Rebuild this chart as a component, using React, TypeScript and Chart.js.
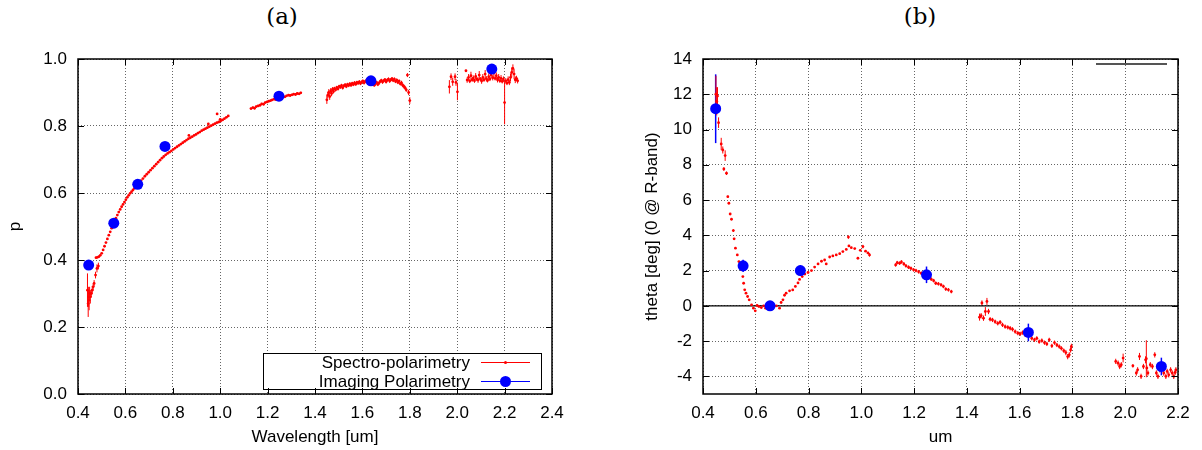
import React, { useEffect, useRef } from "react";
import { Chart, registerables } from "chart.js";

Chart.register(...registerables);

// ---------- axis ticks ----------
const xTicksA = [0.4, 0.6, 0.8, 1.0, 1.2, 1.4, 1.6, 1.8, 2.0, 2.2, 2.4];
const yTicksA = [0.0, 0.2, 0.4, 0.6, 0.8, 1.0];
const xTicksB = [0.4, 0.6, 0.8, 1.0, 1.2, 1.4, 1.6, 1.8, 2.0, 2.2];
const yTicksB = [-4, -2, 0, 2, 4, 6, 8, 10, 12, 14];

// ---------- imaging polarimetry (blue) ----------
const imgWaveA = [0.445, 0.551, 0.652, 0.767, 1.248, 1.636, 2.146];
const imgP = [0.385, 0.510, 0.626, 0.739, 0.889, 0.935, 0.970];
const imgPErr = [0, 0, 0, 0, 0, 0, 0];

const imgWaveB = [0.448, 0.552, 0.654, 0.769, 1.247, 1.633, 2.137];
const imgTheta = [11.18, 2.27, 0.0, 2.0, 1.76, -1.51, -3.44];
const imgThetaErr = [1.95, 0.35, 0.1, 0.3, 0.47, 0.5, 0.5];

// ---------- spectro-polarimetry p (red): [wavelength, p, err] ----------
const specP1: number[][] = [
  [0.440, 0.31, 0.05], [0.443, 0.27, 0.04], [0.445, 0.29, 0.03], [0.447, 0.28, 0.03],
  [0.449, 0.30, 0.02], [0.452, 0.29, 0.02], [0.456, 0.30, 0.012], [0.460, 0.31, 0.012],
  [0.464, 0.32, 0.01], [0.468, 0.33, 0.01], [0.474, 0.355, 0.01], [0.480, 0.375, 0.012],
  [0.486, 0.382, 0.01], [0.476, 0.407, 0], [0.482, 0.408, 0], [0.488, 0.410, 0],
  [0.494, 0.414, 0], [0.500, 0.420, 0], [0.506, 0.430, 0], [0.512, 0.441, 0],
  [0.518, 0.452, 0], [0.524, 0.463, 0], [0.530, 0.474, 0], [0.536, 0.484, 0],
  [0.542, 0.495, 0], [0.548, 0.505, 0], [0.554, 0.515, 0], [0.560, 0.525, 0],
  [0.566, 0.534, 0], [0.572, 0.543, 0], [0.578, 0.551, 0], [0.584, 0.559, 0],
  [0.590, 0.566, 0], [0.596, 0.573, 0], [0.602, 0.580, 0], [0.608, 0.587, 0],
  [0.614, 0.593, 0], [0.620, 0.599, 0], [0.626, 0.604, 0], [0.632, 0.609, 0],
  [0.638, 0.614, 0], [0.644, 0.619, 0], [0.650, 0.624, 0], [0.658, 0.630, 0],
  [0.666, 0.637, 0], [0.674, 0.643, 0], [0.682, 0.650, 0], [0.690, 0.656, 0],
  [0.698, 0.662, 0], [0.706, 0.668, 0], [0.714, 0.674, 0], [0.722, 0.680, 0],
  [0.730, 0.686, 0], [0.738, 0.692, 0], [0.746, 0.698, 0], [0.754, 0.704, 0],
  [0.762, 0.709, 0], [0.770, 0.714, 0], [0.778, 0.718, 0], [0.786, 0.722, 0],
  [0.794, 0.726, 0], [0.802, 0.730, 0], [0.810, 0.734, 0], [0.818, 0.738, 0],
  [0.826, 0.742, 0], [0.834, 0.746, 0], [0.842, 0.750, 0], [0.850, 0.754, 0],
  [0.858, 0.758, 0], [0.866, 0.762, 0], [0.868, 0.772, 0], [0.874, 0.765, 0],
  [0.882, 0.768, 0], [0.890, 0.772, 0], [0.898, 0.775, 0], [0.906, 0.779, 0],
  [0.914, 0.782, 0], [0.922, 0.786, 0], [0.930, 0.789, 0], [0.938, 0.792, 0],
  [0.946, 0.795, 0], [0.950, 0.806, 0], [0.954, 0.798, 0], [0.962, 0.801, 0],
  [0.970, 0.804, 0], [0.978, 0.807, 0], [0.986, 0.810, 0], [0.987, 0.836, 0],
  [0.994, 0.812, 0], [1.000, 0.820, 0], [1.002, 0.815, 0], [1.010, 0.818, 0],
  [1.018, 0.822, 0], [1.026, 0.826, 0], [1.034, 0.830, 0],
];
const specP2: number[][] = [
  [1.130, 0.852, 0.003], [1.138, 0.855, 0.003], [1.145, 0.853, 0.003], [1.152, 0.858, 0.003],
  [1.160, 0.860, 0.003], [1.168, 0.862, 0.003], [1.175, 0.866, 0.003], [1.183, 0.865, 0.003],
  [1.190, 0.870, 0.003], [1.198, 0.872, 0.003], [1.205, 0.874, 0.003], [1.213, 0.876, 0.003],
  [1.220, 0.878, 0.003], [1.228, 0.880, 0.003], [1.235, 0.879, 0.003], [1.243, 0.884, 0.003],
  [1.250, 0.885, 0.003], [1.258, 0.886, 0.003], [1.265, 0.888, 0.003], [1.273, 0.887, 0.003],
  [1.280, 0.890, 0.003], [1.288, 0.892, 0.003], [1.295, 0.891, 0.003], [1.303, 0.893, 0.003],
  [1.310, 0.895, 0.003], [1.318, 0.894, 0.003], [1.325, 0.897, 0.003], [1.333, 0.896, 0.003],
  [1.340, 0.899, 0.003],
];
const specP3: number[][] = [
  [1.450, 0.878, 0.012], [1.454, 0.892, 0.010], [1.458, 0.900, 0.010], [1.462, 0.888, 0.010],
  [1.466, 0.905, 0.008], [1.470, 0.897, 0.008], [1.474, 0.910, 0.006], [1.478, 0.903, 0.006],
  [1.482, 0.912, 0.005], [1.487, 0.908, 0.005], [1.492, 0.915, 0.005], [1.497, 0.911, 0.005],
  [1.502, 0.918, 0.005], [1.507, 0.916, 0.005], [1.512, 0.921, 0.005], [1.517, 0.914, 0.005],
  [1.522, 0.920, 0.005], [1.527, 0.923, 0.005], [1.532, 0.918, 0.005], [1.537, 0.924, 0.005],
  [1.542, 0.921, 0.005], [1.547, 0.926, 0.005], [1.552, 0.922, 0.005], [1.557, 0.927, 0.005],
  [1.562, 0.924, 0.005], [1.567, 0.929, 0.005], [1.572, 0.925, 0.005], [1.577, 0.930, 0.005],
  [1.582, 0.928, 0.005], [1.587, 0.932, 0.005], [1.592, 0.927, 0.005], [1.597, 0.931, 0.005],
  [1.602, 0.934, 0.005], [1.607, 0.929, 0.005], [1.612, 0.933, 0.005], [1.617, 0.936, 0.005],
  [1.622, 0.930, 0.005], [1.627, 0.934, 0.005], [1.632, 0.928, 0.005], [1.640, 0.925, 0.005],
  [1.645, 0.929, 0.005], [1.650, 0.922, 0.005], [1.655, 0.926, 0.005], [1.660, 0.930, 0.005],
  [1.665, 0.924, 0.005], [1.670, 0.928, 0.005], [1.675, 0.933, 0.005], [1.680, 0.936, 0.005],
  [1.685, 0.931, 0.005], [1.690, 0.935, 0.005], [1.695, 0.938, 0.005], [1.700, 0.932, 0.005],
  [1.705, 0.937, 0.005], [1.710, 0.940, 0.005], [1.715, 0.934, 0.005], [1.720, 0.938, 0.005],
  [1.725, 0.941, 0.005], [1.730, 0.936, 0.005], [1.735, 0.940, 0.005], [1.740, 0.933, 0.005],
  [1.745, 0.937, 0.005], [1.750, 0.930, 0.005], [1.755, 0.934, 0.005], [1.760, 0.926, 0.005],
  [1.765, 0.929, 0.006], [1.770, 0.922, 0.006], [1.775, 0.918, 0.006], [1.780, 0.914, 0.006],
  [1.785, 0.908, 0.006], [1.790, 0.952, 0.006], [1.795, 0.900, 0.008], [1.800, 0.876, 0.010],
];
const specP4: number[][] = [
  [1.967, 0.917, 0.020], [1.974, 0.947, 0.010], [1.981, 0.932, 0.012], [1.991, 0.947, 0.010],
  [1.995, 0.930, 0.010], [2.001, 0.902, 0.025], [2.037, 0.965, 0], [2.042, 0.937, 0.008],
  [2.048, 0.945, 0.010], [2.053, 0.934, 0.006], [2.058, 0.950, 0.012], [2.063, 0.938, 0.006],
  [2.068, 0.943, 0.008], [2.073, 0.935, 0.006], [2.078, 0.948, 0.010], [2.083, 0.940, 0.006],
  [2.088, 0.937, 0.008], [2.093, 0.952, 0.012], [2.098, 0.940, 0.006], [2.103, 0.934, 0.008],
  [2.108, 0.945, 0.010], [2.113, 0.938, 0.006], [2.118, 0.955, 0.012], [2.123, 0.941, 0.008],
  [2.128, 0.936, 0.006], [2.133, 0.947, 0.010], [2.138, 0.940, 0.006], [2.143, 0.952, 0.010],
  [2.150, 0.944, 0.008], [2.155, 0.958, 0.012], [2.160, 0.942, 0.006], [2.165, 0.950, 0.010],
  [2.170, 0.938, 0.008], [2.175, 0.945, 0.010], [2.180, 0.935, 0.006], [2.185, 0.942, 0.010],
  [2.190, 0.933, 0.006], [2.195, 0.940, 0.008], [2.200, 0.870, 0.065], [2.205, 0.935, 0.008],
  [2.210, 0.928, 0.006], [2.215, 0.938, 0.010], [2.220, 0.930, 0.008], [2.225, 0.945, 0.012],
  [2.230, 0.960, 0.015], [2.235, 0.972, 0.012], [2.240, 0.955, 0.015], [2.245, 0.938, 0.010],
  [2.250, 0.942, 0.008], [2.255, 0.935, 0.008],
];

// ---------- spectro-polarimetry theta (red): [wavelength, theta, err] ----------
const specT1: number[][] = [
  [0.449, 12.0, 1.05], [0.452, 11.6, 0.8], [0.455, 11.9, 0.5], [0.459, 10.39, 0.3],
  [0.469, 9.18, 0.35], [0.475, 8.84, 0.2], [0.484, 8.52, 0.3], [0.479, 7.76, 0.1],
  [0.489, 7.52, 0.1], [0.494, 6.19, 0.05], [0.498, 5.82, 0.05], [0.503, 5.21, 0.05],
  [0.508, 4.91, 0.05], [0.515, 4.27, 0.08], [0.518, 3.80, 0.05], [0.523, 3.27, 0],
  [0.530, 2.89, 0], [0.536, 2.51, 0], [0.545, 2.04, 0], [0.551, 1.66, 0],
  [0.554, 1.28, 0], [0.558, 0.91, 0], [0.563, 0.72, 0], [0.569, 0.53, 0],
  [0.575, 0.34, 0], [0.584, 0.06, 0], [0.591, -0.13, 0], [0.598, -0.28, 0],
  [0.605, 0.02, 0], [0.612, -0.04, 0], [0.621, -0.10, 0], [0.630, 0.00, 0],
  [0.637, -0.13, 0], [0.646, -0.04, 0], [0.665, -0.04, 0], [0.678, 0.00, 0],
  [0.690, -0.13, 0], [0.696, 0.19, 0], [0.703, 0.34, 0], [0.709, 0.60, 0],
  [0.715, 0.72, 0], [0.728, 0.85, 0], [0.740, 0.90, 0], [0.750, 1.10, 0],
  [0.760, 1.30, 0], [0.766, 1.50, 0], [0.776, 1.66, 0], [0.786, 1.80, 0],
  [0.798, 1.89, 0], [0.811, 2.00, 0], [0.823, 2.20, 0], [0.836, 2.38, 0],
  [0.849, 2.53, 0], [0.861, 2.60, 0], [0.867, 2.38, 0], [0.880, 2.77, 0],
  [0.892, 2.83, 0], [0.905, 2.89, 0], [0.918, 2.96, 0], [0.930, 3.08, 0],
  [0.943, 3.20, 0], [0.951, 3.90, 0.1], [0.953, 3.40, 0], [0.962, 3.30, 0],
  [0.975, 3.25, 0], [0.987, 2.70, 0], [0.996, 3.15, 0], [1.006, 3.36, 0.1],
  [1.016, 3.10, 0], [1.025, 3.00, 0], [1.031, 2.89, 0.1],
];
const specT2: number[][] = [
  [1.130, 2.32, 0.1], [1.136, 2.45, 0.1], [1.145, 2.42, 0.1], [1.152, 2.49, 0.1],
  [1.161, 2.38, 0.1], [1.169, 2.27, 0.1], [1.179, 2.19, 0.1], [1.188, 2.13, 0.1],
  [1.198, 2.04, 0.1], [1.207, 2.00, 0.1], [1.217, 1.93, 0.1], [1.227, 1.85, 0.1],
  [1.236, 1.83, 0.1], [1.255, 1.62, 0.1], [1.265, 1.51, 0.1], [1.274, 1.43, 0.1],
  [1.282, 1.28, 0.1], [1.292, 1.25, 0.1], [1.302, 1.19, 0.1], [1.311, 1.10, 0.1],
  [1.320, 0.95, 0.1], [1.330, 0.91, 0.1], [1.341, 0.81, 0.1],
];
const specT3: number[][] = [
  [1.448, -0.64, 0.2], [1.454, -0.56, 0.15], [1.457, 0.16, 0.15], [1.463, -0.70, 0.15],
  [1.470, -0.32, 0.25], [1.476, 0.25, 0.2], [1.482, -0.32, 0.15], [1.488, -0.76, 0.12],
  [1.497, -0.80, 0.12], [1.507, -0.90, 0.12], [1.517, -0.99, 0.12], [1.526, -0.93, 0.12],
  [1.535, -1.08, 0.12], [1.545, -1.18, 0.12], [1.555, -1.22, 0.12], [1.564, -1.27, 0.12],
  [1.573, -1.33, 0.12], [1.583, -1.46, 0.12], [1.593, -1.55, 0.12], [1.602, -1.59, 0.12],
  [1.611, -1.52, 0.12], [1.621, -1.65, 0.12], [1.646, -1.84, 0.12], [1.656, -1.93, 0.12],
  [1.665, -1.84, 0.12], [1.674, -2.03, 0.12], [1.684, -1.97, 0.12], [1.694, -2.09, 0.12],
  [1.703, -2.16, 0.12], [1.712, -1.93, 0.12], [1.722, -2.27, 0.12], [1.732, -2.09, 0.12],
  [1.741, -2.22, 0.12], [1.750, -2.31, 0.12], [1.758, -2.41, 0.12], [1.767, -2.54, 0.12],
  [1.775, -2.65, 0.15], [1.782, -2.88, 0.15], [1.788, -2.78, 0.15], [1.793, -2.50, 0.15],
  [1.796, -2.30, 0.15],
];
const specT4: number[][] = [
  [1.964, -3.15, 0.15], [1.973, -3.25, 0.15], [1.979, -3.44, 0.15], [1.985, -3.34, 0.15],
  [1.992, -2.96, 0.25], [2.029, -3.40, 0.1], [2.042, -3.81, 0.15], [2.047, -3.63, 0.15],
  [2.054, -2.87, 0.2], [2.060, -4.00, 0.15], [2.069, -3.44, 0.15], [2.077, -3.06, 0.2],
  [2.080, -3.00, 1.05], [2.082, -3.53, 0.15], [2.086, -3.81, 0.15], [2.095, -3.34, 0.15],
  [2.103, -3.44, 0.15], [2.112, -2.78, 0.15], [2.118, -3.81, 0.15], [2.124, -4.00, 0.15],
  [2.131, -3.63, 0.15], [2.146, -3.81, 0.15], [2.154, -4.00, 0.15], [2.159, -3.72, 0.15],
  [2.165, -3.91, 0.15], [2.172, -3.63, 0.15], [2.178, -3.81, 0.15], [2.184, -4.00, 0.15],
  [2.189, -3.78, 0.15], [2.192, -3.63, 0.15],
];

// zero reference line of panel (b)
const zeroLineX = [0.4, 2.2];
const zeroLineY = [0, 0];

const seriesNames = ["Spectro-polarimetry", "Imaging Polarimetry"];

// ---------- helpers ----------
const FONT = "'Liberation Sans', Arial, Helvetica, sans-serif";
const RED = "#ff0000";
const BLUE = "#0000ff";

const errorBarPlugin = {
  id: "errorBars",
  beforeDatasetsDraw(chart: any) {
    const { ctx, chartArea: a } = chart;
    const ys = chart.scales.y;
    ctx.save();
    ctx.beginPath();
    ctx.rect(a.left, a.top, a.width, a.height);
    ctx.clip();
    chart.data.datasets.forEach((ds: any, i: number) => {
      if (!ds.errs) return;
      const meta = chart.getDatasetMeta(i);
      ctx.strokeStyle = ds.borderColor;
      ctx.lineWidth = ds.errWidth || 1;
      meta.data.forEach((el: any, j: number) => {
        const e = ds.errs[j];
        if (!e) return;
        const v = ds.data[j].y;
        const y1 = ys.getPixelForValue(v + e);
        const y2 = ys.getPixelForValue(v - e);
        ctx.beginPath();
        ctx.moveTo(el.x, y1);
        ctx.lineTo(el.x, y2);
        ctx.stroke();
      });
    });
    ctx.restore();
  },
};

const framePlugin = {
  id: "frame",
  afterDraw(chart: any) {
    const { ctx, chartArea: a } = chart;
    const xs = chart.scales.x;
    const ys = chart.scales.y;
    ctx.save();
    ctx.strokeStyle = "#000";
    ctx.lineWidth = 1;
    ctx.beginPath();
    xs.ticks.forEach((t: any) => {
      const px = Math.round(xs.getPixelForValue(t.value)) + 0.5;
      ctx.moveTo(px, a.bottom);
      ctx.lineTo(px, a.bottom - 6);
      ctx.moveTo(px, a.top);
      ctx.lineTo(px, a.top + 6);
    });
    ys.ticks.forEach((t: any) => {
      const py = Math.round(ys.getPixelForValue(t.value)) + 0.5;
      ctx.moveTo(a.left, py);
      ctx.lineTo(a.left + 6, py);
      ctx.moveTo(a.right, py);
      ctx.lineTo(a.right - 6, py);
    });
    ctx.stroke();
    ctx.lineWidth = 1.5;
    ctx.strokeRect(a.left, a.top, a.width, a.height);
    ctx.restore();
  },
};

const legendAPlugin = {
  id: "legendA",
  afterDraw(chart: any) {
    const { ctx, chartArea: a } = chart;
    const left = a.right - 289;
    const right = a.right - 11;
    const top = a.bottom - 41;
    const bottom = a.bottom - 5;
    ctx.save();
    ctx.fillStyle = "#fff";
    ctx.fillRect(left, top, right - left, bottom - top);
    ctx.strokeStyle = "#000";
    ctx.lineWidth = 1;
    ctx.strokeRect(left + 0.5, top + 0.5, right - left, bottom - top);
    ctx.font = "17px " + FONT;
    ctx.textAlign = "right";
    ctx.textBaseline = "middle";
    ctx.fillStyle = "#000";
    const rows = [a.bottom - 32, a.bottom - 13];
    const colors = [RED, BLUE];
    const radii = [1.5, 5.5];
    seriesNames.forEach((name, k) => {
      const y = rows[k];
      ctx.fillStyle = "#000";
      ctx.fillText(name, a.right - 82, y + 1);
      ctx.strokeStyle = colors[k];
      ctx.lineWidth = 1;
      ctx.beginPath();
      ctx.moveTo(a.right - 71, y + 0.5);
      ctx.lineTo(a.right - 22, y + 0.5);
      ctx.stroke();
      ctx.fillStyle = colors[k];
      ctx.beginPath();
      ctx.arc(a.right - 46.5, y + 0.5, radii[k], 0, Math.PI * 2);
      ctx.fill();
    });
    ctx.restore();
  },
};

const keyBPlugin = {
  id: "keyB",
  afterDraw(chart: any) {
    const { ctx, chartArea: a } = chart;
    ctx.save();
    ctx.strokeStyle = "#555";
    ctx.lineWidth = 2;
    ctx.beginPath();
    ctx.moveTo(a.right - 82, a.top + 5);
    ctx.lineTo(a.right - 11, a.top + 5);
    ctx.stroke();
    ctx.restore();
  },
};

function toPoints(rows: number[][]) {
  return rows.map((r) => ({ x: r[0], y: r[1] }));
}

function makeScales(
  xMin: number, xMax: number, xTicks: number[], xTitle: string,
  yMin: number, yMax: number, yTicks: number[], yTitle: string, yWidth: number, yDecimals: number
) {
  const grid = { color: "rgba(0,0,0,0.6)", lineWidth: 1, drawTicks: false };
  const border = { display: false, dash: [1, 2] };
  const tickFont = { family: FONT, size: 17 };
  return {
    x: {
      type: "linear",
      min: xMin,
      max: xMax,
      afterBuildTicks: (s: any) => { s.ticks = xTicks.map((v) => ({ value: v })); },
      afterFit: (s: any) => { s.height = 56; },
      grid,
      border,
      ticks: {
        color: "#000", font: tickFont, padding: 9, maxRotation: 0, autoSkip: false,
        callback: (v: any) => Number(v).toFixed(1),
      },
      title: {
        display: true, text: xTitle, color: "#000",
        font: { family: FONT, size: 17 }, padding: { top: 0, bottom: 2 },
      },
    },
    y: {
      type: "linear",
      min: yMin,
      max: yMax,
      afterBuildTicks: (s: any) => { s.ticks = yTicks.map((v) => ({ value: v })); },
      afterFit: (s: any) => { s.width = yWidth; },
      grid,
      border,
      ticks: {
        color: "#000", font: tickFont, padding: 11, autoSkip: false,
        callback: (v: any) => Number(v).toFixed(yDecimals),
      },
      title: {
        display: true, text: yTitle, color: "#000",
        font: { family: FONT, size: 17 }, padding: { top: 5, bottom: 0 },
      },
    },
  };
}

function useChart(ref: React.RefObject<HTMLCanvasElement | null>, build: () => any) {
  useEffect(() => {
    if (!ref.current) return;
    const chart = new Chart(ref.current, build());
    return () => chart.destroy();
  }, []);
}

export default function App() {
  const refA = useRef<HTMLCanvasElement | null>(null);
  const refB = useRef<HTMLCanvasElement | null>(null);

  useChart(refA, () => {
    const spec = [...specP1, ...specP2, ...specP3, ...specP4];
    return {
      type: "scatter",
      data: {
        datasets: [
          {
            label: seriesNames[1],
            data: imgWaveA.map((w, i) => ({ x: w, y: imgP[i] })),
            errs: imgPErr,
            errWidth: 1.5,
            backgroundColor: BLUE,
            borderColor: BLUE,
            pointRadius: 5.5,
            pointBorderWidth: 0,
            order: 0,
          },
          {
            label: seriesNames[0],
            data: toPoints(spec),
            errs: spec.map((r) => r[2]),
            backgroundColor: RED,
            borderColor: RED,
            pointRadius: 1.4,
            pointBorderWidth: 0,
            order: 1,
          },
        ],
      },
      options: {
        animation: false,
        responsive: false,
        events: [],
        layout: { padding: { left: 0, top: 59, right: 48, bottom: 0 } },
        plugins: { legend: { display: false }, tooltip: { enabled: false } },
        scales: makeScales(0.4, 2.4, xTicksA, "Wavelength [um]", 0, 1, yTicksA, "p", 78, 1),
      },
      plugins: [errorBarPlugin, legendAPlugin, framePlugin],
    };
  });

  useChart(refB, () => {
    const spec = [...specT1, ...specT2, ...specT3, ...specT4];
    return {
      type: "scatter",
      data: {
        datasets: [
          {
            label: seriesNames[1],
            data: imgWaveB.map((w, i) => ({ x: w, y: imgTheta[i] })),
            errs: imgThetaErr,
            errWidth: 1.5,
            backgroundColor: BLUE,
            borderColor: BLUE,
            pointRadius: 5.5,
            pointBorderWidth: 0,
            order: 0,
          },
          {
            label: seriesNames[0],
            data: toPoints(spec),
            errs: spec.map((r) => r[2]),
            backgroundColor: RED,
            borderColor: RED,
            pointRadius: 1.4,
            pointBorderWidth: 0,
            order: 1,
          },
          {
            label: "zero",
            data: zeroLineX.map((x, i) => ({ x, y: zeroLineY[i] })),
            showLine: true,
            borderColor: "#000",
            borderWidth: 1.2,
            pointRadius: 0,
            order: 2,
          },
        ],
      },
      options: {
        animation: false,
        responsive: false,
        events: [],
        layout: { padding: { left: 37, top: 59, right: 24, bottom: 0 } },
        plugins: { legend: { display: false }, tooltip: { enabled: false } },
        scales: makeScales(0.4, 2.2, xTicksB, "um", -5, 14, yTicksB, "theta [deg] (0 @ R-band)", 66, 0),
      },
      plugins: [errorBarPlugin, framePlugin, keyBPlugin],
    };
  });

  const titleStyle: React.CSSProperties = {
    position: "absolute",
    top: 3,
    width: 100,
    textAlign: "center",
    fontFamily: "'DejaVu Serif', 'Liberation Serif', serif",
    fontSize: 23,
    lineHeight: "26px",
    color: "#000",
  };

  return (
    <div style={{ position: "absolute", left: 0, top: 0, width: 1202, height: 450, background: "#fff" }}>
      <div style={{ ...titleStyle, left: 232 }}>(a)</div>
      <div style={{ ...titleStyle, left: 870 }}>(b)</div>
      <canvas ref={refA} width={600} height={450} style={{ position: "absolute", left: 0, top: 0 }} />
      <canvas ref={refB} width={602} height={450} style={{ position: "absolute", left: 600, top: 0 }} />
    </div>
  );
}
